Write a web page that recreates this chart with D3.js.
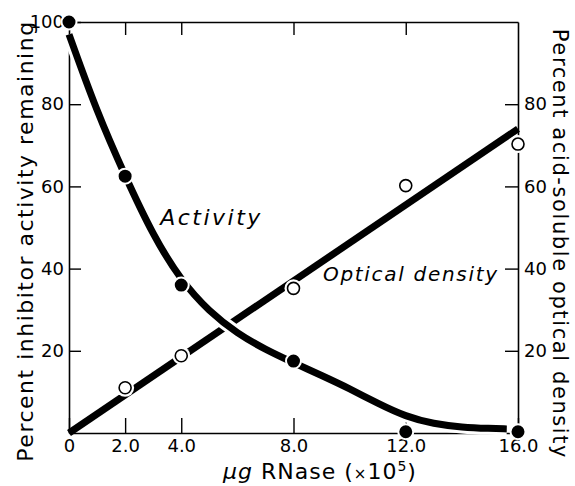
<!DOCTYPE html>
<html>
<head>
<meta charset="utf-8">
<script src="https://cdn.jsdelivr.net/npm/d3@7"></script>
<style>
  body { margin: 0; background: #fff; }
  svg text { font-family: "DejaVu Sans", sans-serif; fill: #000; }
</style>
</head>
<body>
<svg id="chart" width="575" height="486"></svg>
<script>
// measured points
var doses = [0, 2, 4, 8, 12, 16];
var activity = [100, 62.5, 36, 17.5, 0.3, 0.3];
var odDoses = [2, 4, 8, 12, 16];
var opticalDensity = [11, 18.8, 35.2, 60.2, 70.3];

// hand-drawn curves
var activityCurveX = [0, 1, 2, 3, 4, 5, 6, 7, 8, 9, 10, 11, 12, 13, 14, 15, 15.6];
var activityCurveY = [97, 78, 62.5, 48, 37, 29.5, 24.2, 20.3, 17.1, 14.0, 10.8, 7.2, 4.0, 2.2, 1.4, 1.1, 1.0];
var odLineX = [0, 16];
var odLineY = [0, 74];

var xTicks = [0, 2, 4, 8, 12, 16];
var yTicks = [20, 40, 60, 80, 100];
var yTicksRight = [20, 40, 60, 80];

var margin = {top: 22, right: 57, bottom: 53, left: 69},
    width = 575 - margin.left - margin.right,
    height = 486 - margin.top - margin.bottom;

var svg = d3.select("#chart");
var g = svg.append("g").attr("transform", "translate(" + margin.left + "," + margin.top + ")");

var x = d3.scaleLinear().domain([0, 16]).range([0, width]);
var y = d3.scaleLinear().domain([0, 100]).range([height, 0]);

function styleAxis(sel) {
    sel.selectAll("path.domain").attr("stroke", "#000").attr("stroke-width", 1.6);
    sel.selectAll(".tick line").attr("stroke", "#000").attr("stroke-width", 1.4);
    sel.selectAll(".tick text").style("font-size", "18px").attr("fill", "#000");
}

g.append("g")
    .attr("transform", "translate(0," + height + ")")
    .call(d3.axisBottom(x).tickValues(xTicks).tickSize(-15).tickSizeOuter(0).tickPadding(6)
        .tickFormat(function(d) { return d === 0 ? "0" : d3.format(".1f")(d); }))
    .call(styleAxis);

g.append("g")
    .call(d3.axisTop(x).tickValues([2, 4, 8, 12]).tickSize(-13).tickSizeOuter(0).tickFormat(""))
    .call(styleAxis);

g.append("g")
    .call(d3.axisLeft(y).tickValues(yTicks).tickSize(-12).tickSizeOuter(0).tickPadding(5))
    .call(styleAxis);

g.append("g")
    .attr("transform", "translate(" + width + ",0)")
    .call(d3.axisRight(y).tickValues(yTicksRight).tickSize(-13).tickSizeOuter(0).tickPadding(6))
    .call(styleAxis);

// optical density straight line
var odLine = d3.line().x(function(d) { return x(d[0]); }).y(function(d) { return y(d[1]); });
g.append("path")
    .datum(d3.zip(odLineX, odLineY))
    .attr("d", odLine)
    .attr("fill", "none")
    .attr("stroke", "#000")
    .attr("stroke-width", 7);

// activity curve, with a white casing so it cuts the other line
var actLine = d3.line()
    .x(function(d) { return x(d[0]); })
    .y(function(d) { return y(d[1]); })
    .curve(d3.curveBasis);
var actData = d3.zip(activityCurveX, activityCurveY);
g.append("path").datum(actData).attr("d", actLine)
    .attr("fill", "none").attr("stroke", "#fff").attr("stroke-width", 13);
g.append("path").datum(actData).attr("d", actLine)
    .attr("fill", "none").attr("stroke", "#000").attr("stroke-width", 7);

// open circles
var od = d3.zip(odDoses, opticalDensity);
g.selectAll(".od-halo").data(od).enter().append("circle")
    .attr("class", "od-halo")
    .attr("cx", function(d) { return x(d[0]); })
    .attr("cy", function(d) { return y(d[1]); })
    .attr("r", 9).attr("fill", "#fff");
g.selectAll(".od-pt").data(od).enter().append("circle")
    .attr("class", "od-pt")
    .attr("cx", function(d) { return x(d[0]); })
    .attr("cy", function(d) { return y(d[1]); })
    .attr("r", 6).attr("fill", "#fff").attr("stroke", "#000").attr("stroke-width", 1.6);

// filled circles
g.selectAll(".act-pt").data(d3.zip(doses, activity)).enter().append("circle")
    .attr("class", "act-pt")
    .attr("cx", function(d) { return x(d[0]); })
    .attr("cy", function(d) { return y(d[1]); })
    .attr("r", 7.5).attr("fill", "#000").attr("stroke", "#fff").attr("stroke-width", 2);

// labels
g.append("text")
    .attr("x", x(3.25)).attr("y", y(50.5))
    .style("font-size", "22px").style("font-style", "italic").style("letter-spacing", "2.5px")
    .text("Activity");

g.append("text")
    .attr("x", x(9.05)).attr("y", y(37))
    .style("font-size", "20px").style("font-style", "italic").style("letter-spacing", "1.7px")
    .text("Optical density");

svg.append("text")
    .attr("transform", "translate(33,241) rotate(-90)")
    .attr("text-anchor", "middle")
    .style("font-size", "22px").style("letter-spacing", "1.5px")
    .text("Percent inhibitor activity remaining");

svg.append("text")
    .attr("transform", "translate(553,244) rotate(90)")
    .attr("text-anchor", "middle")
    .style("font-size", "21px").style("letter-spacing", "1.6px")
    .text("Percent acid-soluble optical density");

svg.append("text")
    .attr("x", 320).attr("y", 479)
    .attr("text-anchor", "middle")
    .style("font-size", "22px").style("letter-spacing", "1px")
    .html("<tspan font-style='italic'>μg</tspan> RNase (<tspan font-size='15px'>×</tspan>10<tspan font-size='14px' dy='-8'>5</tspan><tspan dy='8'>)</tspan>");
</script>
</body>
</html>
